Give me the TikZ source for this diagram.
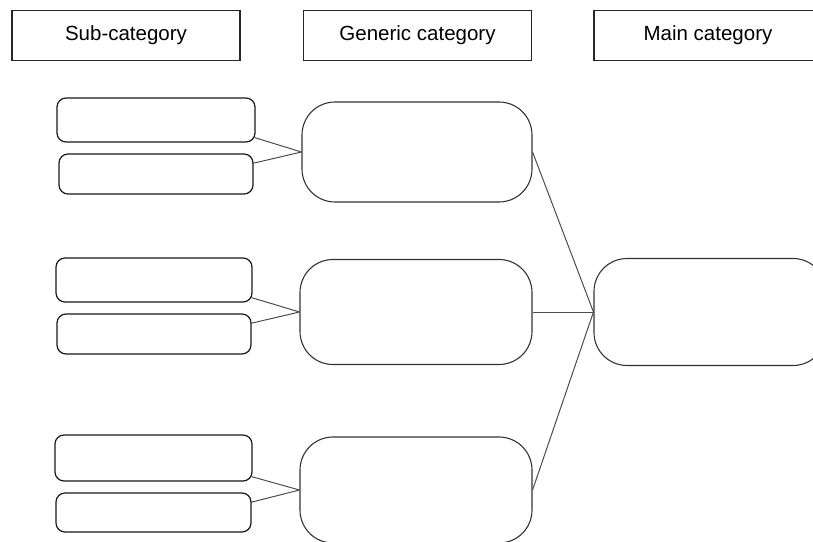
\documentclass[tikz,border=0pt]{standalone}
\usepackage{fontspec}
\setmainfont{Liberation Sans}
\begin{document}
\begin{tikzpicture}[x=1pt,y=-1pt,
  header/.style={draw=black!85,line width=1.1pt,minimum width=228pt,minimum height=50pt,inner sep=0pt,font=\fontsize{20.5}{24}\selectfont},
  subbox/.style={draw=black!90,line width=1.2pt,rounded corners=9pt,inner sep=0pt},
  bigbox/.style={draw=black!80,line width=1.1pt,rounded corners=33pt,inner sep=0pt},
  link/.style={draw=black!70,line width=1pt}]
\useasboundingbox (0,0) rectangle (813,541);
\clip (0,0) rectangle (813,541);

% column headers
\node[header] (hsub)  at (126,35.5) {Sub-category};
\node[header] (hgen)  at (417.5,35.5) {Generic category};
\node[header] (hmain) at (708,35.5) {Main category};

% sub-category boxes
\node[subbox,minimum width=198pt,minimum height=44pt] (s1) at (156,120) {};
\node[subbox,minimum width=194pt,minimum height=40pt] (s2) at (156,174) {};
\node[subbox,minimum width=196pt,minimum height=44pt] (s3) at (154,280) {};
\node[subbox,minimum width=194pt,minimum height=40pt] (s4) at (154,334) {};
\node[subbox,minimum width=197pt,minimum height=46pt] (s5) at (153.5,458) {};
\node[subbox,minimum width=195pt,minimum height=39pt] (s6) at (153.5,512.5) {};

% generic category boxes
\node[bigbox,minimum width=230pt,minimum height=100pt] (g1) at (417,152) {};
\node[bigbox,minimum width=232pt,minimum height=105pt] (g2) at (416,312) {};
\node[bigbox,minimum width=232pt,minimum height=106pt] (g3) at (416,490) {};

% main category box
\node[bigbox,minimum width=232pt,minimum height=107pt] (m) at (710,312) {};

% sub -> generic
\draw[link] ([xshift=-1pt,yshift=5pt]s1.south east) -- (g1.west);
\draw[link] ([xshift=-1pt,yshift=-10pt]s2.north east) -- (g1.west);
\draw[link] ([xshift=-1pt,yshift=5pt]s3.south east) -- (g2.west);
\draw[link] ([xshift=-1pt,yshift=-10pt]s4.north east) -- (g2.west);
\draw[link] ([xshift=-1pt,yshift=5pt]s5.south east) -- (g3.west);
\draw[link] ([xshift=-1pt,yshift=-10pt]s6.north east) -- (g3.west);

% generic -> main
\draw[link] (g1.east) -- (m.west);
\draw[link] (g2.east) -- (m.west);
\draw[link] (g3.east) -- (m.west);
\end{tikzpicture}
\end{document}
